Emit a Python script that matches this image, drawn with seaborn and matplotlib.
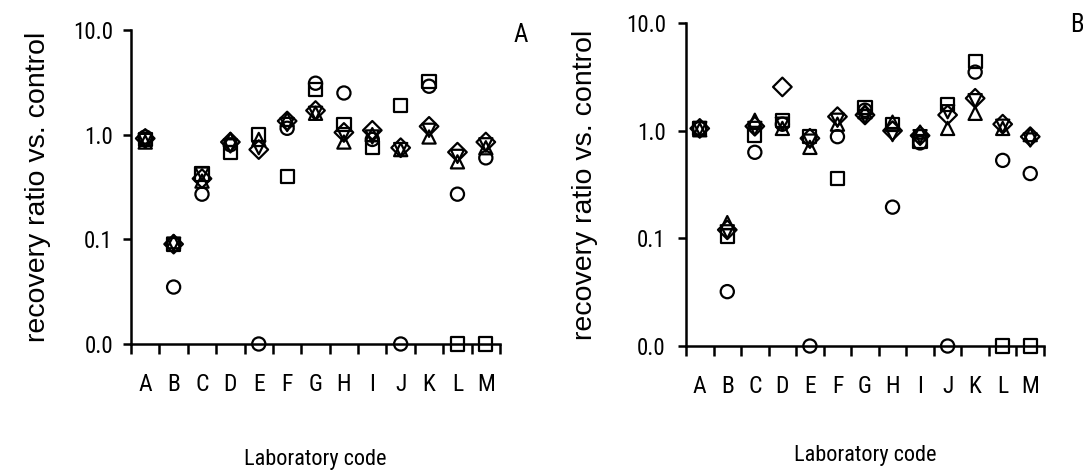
import numpy as np
import pandas as pd
import matplotlib
matplotlib.use("Agg")
import matplotlib.pyplot as plt
import seaborn as sns

labs = ["A", "B", "C", "D", "E", "F", "G", "H", "I", "J", "K", "L", "M"]

# Recovery ratios per laboratory (0.01 marks a value below the axis floor)
a_circle  = [0.95, 0.035, 0.27, 0.80, 0.01, 1.15, 3.10, 2.50, 0.90, 0.01, 2.90, 0.27, 0.60]
a_square  = [0.90, 0.090, 0.42, 0.68, 1.00, 0.40, 2.70, 1.25, 0.76, 1.90, 3.20, 0.01, 0.01]
a_up      = [0.85, 0.095, 0.36, 0.90, 0.90, 1.40, 1.60, 0.85, 1.00, 0.72, 0.95, 0.55, 0.75]
a_down    = [0.88, 0.090, 0.42, 0.78, 0.75, 1.25, 1.60, 1.00, 0.95, 0.72, 1.10, 0.62, 0.80]
a_diamond = [0.92, 0.090, 0.38, 0.85, 0.72, 1.35, 1.70, 1.05, 1.10, 0.75, 1.20, 0.68, 0.85]

b_circle  = [1.05, 0.032, 0.63, 1.15, 0.01, 0.88, 1.55, 0.195, 0.77, 0.01, 3.50, 0.53, 0.40]
b_square  = [1.05, 0.105, 0.90, 1.25, 0.88, 0.36, 1.65, 1.15, 0.80, 1.75, 4.40, 0.01, 0.01]
b_up      = [1.02, 0.140, 1.25, 1.05, 0.70, 1.15, 1.50, 1.20, 0.97, 1.05, 1.45, 1.05, 0.92]
b_down    = [1.05, 0.115, 1.05, 1.15, 0.80, 1.25, 1.35, 0.92, 0.88, 1.50, 1.90, 1.10, 0.82]
b_diamond = [1.05, 0.120, 1.10, 2.55, 0.85, 1.35, 1.40, 1.00, 0.90, 1.40, 2.00, 1.15, 0.88]

series_names = ["circle", "square", "up", "down", "diamond"]
marker_map = {"circle": "o", "square": "s", "up": "^", "down": "v", "diamond": "D"}

ytick_vals = [0.01, 0.1, 1.0, 10.0]
ytick_text = ["0.0", "0.1", "1.0", "10.0"]

NARROW = dict(fontfamily=["Roboto Condensed", "Roboto", "Liberation Sans"],
              fontstretch="condensed")
REGULAR = dict(fontfamily=["Liberation Sans", "DejaVu Sans"])


def long_frame(cols):
    rows = []
    for name, vals in zip(series_names, cols):
        for lab, v in zip(labs, vals):
            rows.append({"lab": lab, "series": name, "ratio": v})
    df = pd.DataFrame(rows)
    df["pos"] = df["lab"].map({l: i for i, l in enumerate(labs)})
    return df


sns.set_theme(style="white")
plt.rcParams["font.family"] = ["Liberation Sans", "DejaVu Sans"]

fig = plt.figure(figsize=(10.83, 4.72), dpi=100)
axA = fig.add_axes([0.121, 0.2712, 0.3407, 0.6653])
axB = fig.add_axes([0.6334, 0.2669, 0.3306, 0.6843])

panels = [
    (axA, long_frame([a_circle, a_square, a_up, a_down, a_diamond]), "A",
     (0.481, 0.925), -0.217, -0.335, 7),
    (axB, long_frame([b_circle, b_square, b_up, b_down, b_diamond]), "B",
     (0.994, 0.947), -0.246, -0.305, 8.5),
]

for ax, df, letter, letter_xy, ylab_x, xlab_y, ypad in panels:
    sns.scatterplot(data=df, x="pos", y="ratio", style="series",
                    markers=marker_map, style_order=series_names,
                    s=90, edgecolor="black", linewidth=1.6,
                    legend=False, clip_on=False, zorder=3, ax=ax)
    for coll in ax.collections:
        coll.set_facecolor("none")
        coll.set_edgecolor("black")

    ax.set_yscale("log")
    ax.set_ylim(0.01, 10)
    ax.set_yticks(ytick_vals)
    ax.set_yticklabels(ytick_text, fontsize=16.5, **NARROW)
    ax.yaxis.set_minor_locator(matplotlib.ticker.NullLocator())

    ax.set_xlim(-0.5, len(labs) - 0.5)
    ax.set_xticks(np.arange(-0.5, len(labs), 1.0))
    ax.set_xticklabels([])
    ax.set_xticks(np.arange(len(labs)), minor=True)
    ax.set_xticklabels(labs, minor=True, fontsize=17, **NARROW)

    ax.tick_params(axis="x", which="major", direction="out", length=7,
                   width=1.8, color="black", bottom=True)
    ax.tick_params(axis="x", which="minor", length=0, pad=21,
                   labelcolor="black")
    ax.tick_params(axis="y", which="major", direction="out", length=6,
                   width=1.8, color="black", left=True, pad=ypad,
                   labelcolor="black")

    for side in ["top", "right"]:
        ax.spines[side].set_visible(False)
    for side in ["left", "bottom"]:
        ax.spines[side].set_color("black")
        ax.spines[side].set_linewidth(1.8)

    ax.set_ylabel("recovery ratio vs. control", fontsize=20.5, color="black",
                  **REGULAR)
    ax.yaxis.set_label_coords(ylab_x, 0.5)
    ax.set_xlabel("Laboratory code", fontsize=16, color="black", **NARROW)
    ax.xaxis.set_label_coords(0.5, xlab_y)
    ax.grid(False)

    ax.text(letter_xy[0], letter_xy[1], letter, transform=fig.transFigure,
            fontsize=18, color="black", ha="center", va="center", **NARROW)

fig.savefig("out.png", dpi=100, facecolor="white")
